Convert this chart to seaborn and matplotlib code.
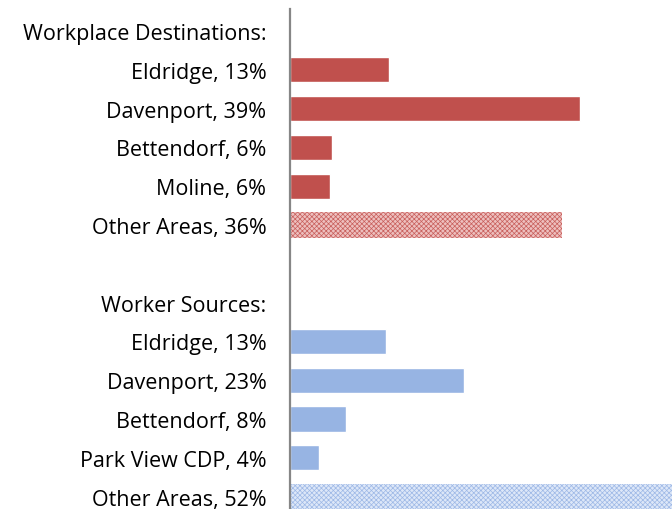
import matplotlib
matplotlib.use("Agg")
import matplotlib.pyplot as plt
import seaborn as sns
import pandas as pd
import numpy as np

labels = ["Workplace Destinations:", "Eldridge, 13%", "Davenport, 39%", "Bettendorf, 6%",
          "Moline, 6%", "Other Areas, 36%", "", "Worker Sources:", "Eldridge, 13%",
          "Davenport, 23%", "Bettendorf, 8%", "Park View CDP, 4%", "Other Areas, 52%"]
values = [np.nan, 13.2, 38.7, 5.6, 5.3, 36.3, np.nan, np.nan, 12.8, 23.2, 7.5, 3.9, 52.0]
groups = ["work", "work", "work", "work", "work", "work", "work",
          "source", "source", "source", "source", "source", "source"]
other_rows = [5, 12]

sns.set_theme(style="white")
plt.rcParams["font.family"] = ["Open Sans", "DejaVu Sans"]
plt.rcParams["hatch.linewidth"] = 0.5

red = "#C0504D"
blue = "#97B4E3"

df = pd.DataFrame({"row": [str(i) for i in range(len(labels))], "value": values, "group": groups})

fig = plt.figure(figsize=(6.72, 5.10), dpi=100)
ax = fig.add_axes([290 / 672, 0, 382 / 672, 500 / 510])

sns.barplot(data=df, y="row", x="value", hue="group", order=df["row"].tolist(),
            palette={"work": red, "source": blue}, dodge=False, width=0.65,
            orient="h", legend=False, ax=ax, saturation=1)

for p in list(ax.patches):
    w = p.get_width()
    if w is None or not np.isfinite(w):
        continue
    yc = p.get_y() + p.get_height() / 2
    idx = int(np.argmin([abs(yc - r) for r in range(len(labels))]))
    if idx in other_rows:
        base = "#C85E5B" if idx == 5 else "#9DB8E6"
        light = "#EDC0BF" if idx == 5 else "#DDE7F8"
        p.set_facecolor(light)
        p.set_edgecolor(base)
        p.set_hatch("xxxxxxx")
        p.set_linewidth(0)

ax.set_xlim(0, 382 / 7.5)
ax.set_ylim(12 + 12.5 / 38.8, -22 / 38.8)
ax.set_yticks(range(len(labels)))
ax.set_yticklabels(labels, fontsize=15.5, color="#000000")
ax.tick_params(axis="y", length=0, pad=17)
ax.set_xticks([])
ax.set_xlabel("")
ax.set_ylabel("")
for s in ["top", "right", "bottom"]:
    ax.spines[s].set_visible(False)
ax.spines["left"].set_color("#868686")
ax.spines["left"].set_linewidth(1.6)

fig.savefig("out.png", dpi=100)
